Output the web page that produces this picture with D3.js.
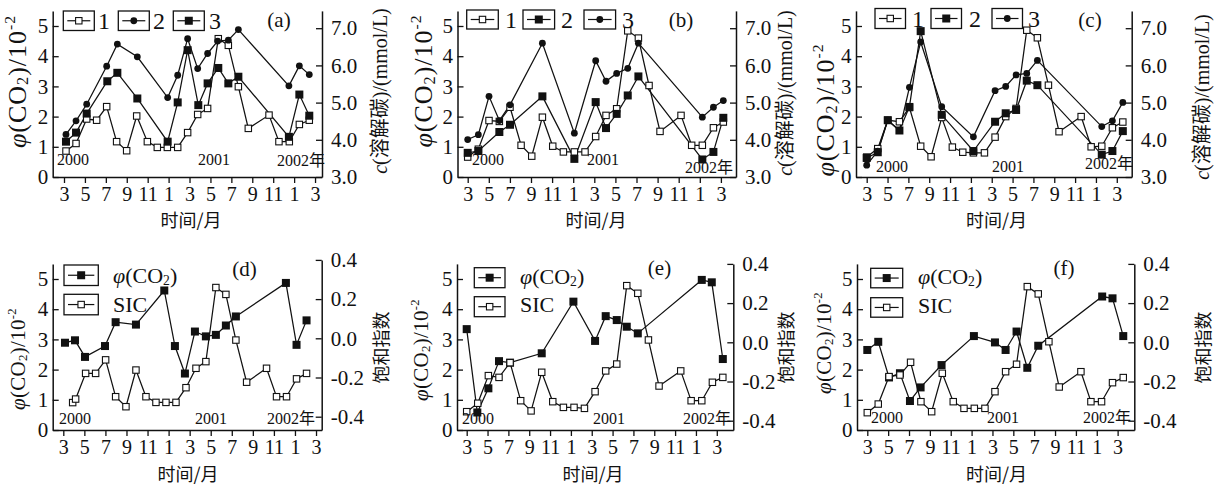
<!DOCTYPE html>
<html><head><meta charset="utf-8">
<script src="https://cdn.jsdelivr.net/npm/d3@7"></script>
<style>body{margin:0;background:#fff} svg{display:block}</style>
</head><body>
<svg id="c" width="1226" height="485"></svg>
<script>
// ---------- shared ticks ----------
const monthTicks = [0,2,4,6,8,10,12,14,16,18,20,22,24];
const monthTickLabels = ["3","5","7","9","11","1","3","5","7","9","11","1","3"];
const leftTicks = [0,1,2,3,4,5];
const rightTicksTop = [3,4,5,6,7];
const rightTicksBottom = [-0.4,-0.2,0,0.2,0.4];

// ---------- panel (a) ----------
const a1T = [0.19,1.15,2.17,3.12,4.08,5.03,5.99,6.95,7.97,8.92,9.88,10.87,11.82,12.78,13.73,14.75,15.71,16.67,17.62,19.6,20.55,21.54,22.5,23.45];
const a1V = [0.86,1.11,1.92,1.88,2.33,1.17,0.87,2.02,1.17,0.98,0.98,0.98,1.47,2.07,2.27,4.58,4.36,2.99,1.61,2.05,1.17,1.17,1.74,1.88];
const a2T = [0.19,1.15,2.17,4.08,5.1,7.01,9.91,10.87,11.82,12.78,13.73,14.69,15.71,16.67,21.5,22.5,23.45];
const a2V = [1.41,1.86,2.41,3.67,4.40,3.98,2.63,3.37,4.58,3.59,4.09,4.50,4.53,4.88,3.02,3.68,3.39];
const a3T = [0.19,1.15,2.17,4.14,5.1,7.01,9.91,10.87,11.82,12.84,13.73,14.75,15.71,16.67,21.5,22.5,23.45];
const a3V = [1.17,1.47,2.10,3.17,3.45,2.60,1.17,2.47,4.20,2.38,3.10,3.61,3.10,3.32,1.33,2.73,2.03];

// ---------- panel (b) ----------
const b1T = [0,1.01,2.02,3.0,4.01,5.06,6.07,7.08,8.06,9.07,10.11,11.12,12.13,13.11,14.12,15.17,16.18,17.19,18.23,20.22,21.23,22.24,23.29,24.23];
const b1V = [0.66,0.92,1.87,1.84,2.31,1.05,0.69,1.98,1.02,0.83,0.83,0.83,1.34,2.04,2.26,4.84,4.60,3.03,1.51,2.04,1.05,1.05,1.63,1.82];
const b2T = [0,1.01,3.0,4.01,7.08,10.11,12.13,13.11,14.12,15.17,16.18,22.24,23.29,24.23];
const b2V = [0.80,0.86,1.49,1.73,2.67,0.60,2.48,1.62,2.09,2.70,3.33,0.58,0.83,1.96];
const b3T = [0,1.01,2.02,3.0,4.01,7.08,10.11,12.13,13.11,14.12,15.17,16.18,22.24,23.29,24.23];
const b3V = [1.24,1.40,2.67,1.87,2.39,4.43,1.45,3.85,3.17,3.43,3.60,4.43,1.98,2.31,2.53];

// ---------- panel (c) ----------
const c1T = [0,1.06,2.02,3.14,4.1,5.18,6.18,7.2,8.22,9.22,10.24,11.3,12.32,13.34,14.34,15.36,16.38,17.44,18.46,20.58,21.54,22.56,23.58,24.58];
const c1V = [0.66,0.94,1.88,1.83,2.30,1.02,0.67,1.97,0.99,0.82,0.80,0.80,1.32,2.00,2.27,4.86,4.61,3.04,1.50,2.00,1.00,1.02,1.63,1.82];
const c2T = [0,1.06,2.02,3.14,4.1,5.18,7.2,10.24,12.32,13.34,14.34,15.36,16.38,22.56,23.58,24.58];
const c2V = [0.63,0.82,1.88,1.54,2.32,4.83,2.06,0.86,1.83,2.11,2.22,3.19,3.04,0.74,0.86,1.52];
const c3T = [0,1.06,2.02,3.14,4.1,5.18,7.2,10.24,12.32,13.34,14.34,15.36,16.38,22.56,23.58,24.58];
const c3V = [0.39,0.86,1.88,1.54,2.97,4.47,2.33,1.33,2.86,3.00,3.38,3.43,3.86,1.67,1.86,2.47];

// ---------- panel (d) ----------
const dCO2T = [0.16,1.11,2.06,3.96,4.97,6.9,9.59,10.6,11.55,12.5,13.54,14.49,15.44,16.39,21.14,22.15,23.1];
const dCO2V = [2.89,2.97,2.42,2.78,3.57,3.49,4.62,2.78,1.87,3.26,3.10,3.15,3.46,3.76,4.87,2.82,3.63];
const dSICT = [0.89,1.17,2.12,3.07,4.02,4.97,5.95,6.9,7.85,8.8,9.75,10.7,11.65,12.6,13.54,14.49,15.44,16.39,17.41,19.3,20.25,21.2,22.15,23.1];
const dSICV = [-0.328,-0.31,-0.179,-0.179,-0.11,-0.298,-0.349,-0.162,-0.298,-0.327,-0.327,-0.327,-0.252,-0.153,-0.119,0.259,0.224,-0.009,-0.224,-0.153,-0.298,-0.298,-0.207,-0.179];

// ---------- panel (e) ----------
const eCO2T = [0,1.02,2.08,3.1,4.16,7.2,10.24,12.32,13.34,14.4,15.36,16.42,22.56,23.52,24.58];
const eCO2V = [3.34,0.58,1.38,2.28,2.23,2.54,4.25,2.95,3.77,3.64,3.42,3.20,4.97,4.89,2.35];
const eSICT = [0,1.06,2.08,3.1,4.16,5.18,6.18,7.2,8.26,9.28,10.3,11.3,12.32,13.34,14.4,15.36,16.42,17.44,18.46,20.54,21.54,22.56,23.58,24.58];
const eSICV = [-0.354,-0.311,-0.170,-0.179,-0.104,-0.298,-0.350,-0.153,-0.303,-0.332,-0.332,-0.337,-0.252,-0.146,-0.111,0.289,0.250,0.012,-0.223,-0.146,-0.298,-0.298,-0.204,-0.179];

// ---------- panel (f) ----------
const fCO2T = [0,1.05,2.08,3.13,4.09,5.11,7.12,10.22,12.24,13.26,14.31,15.34,16.39,22.52,23.51,24.54];
const fCO2V = [2.65,2.92,1.74,1.88,0.96,1.41,2.15,3.11,2.90,2.65,3.26,2.06,2.79,4.42,4.36,3.11];
const fSICT = [0,1.05,2.08,3.13,4.15,5.14,6.17,7.19,8.24,9.27,10.26,11.28,12.24,13.26,14.31,15.34,16.39,17.41,18.4,20.48,21.44,22.46,23.51,24.54];
const fSICV = [-0.359,-0.315,-0.175,-0.167,-0.102,-0.303,-0.354,-0.158,-0.303,-0.337,-0.337,-0.337,-0.252,-0.150,-0.112,0.284,0.247,0.003,-0.228,-0.150,-0.303,-0.303,-0.206,-0.180];

// ---------- drawing ----------
const SERIF = "'Liberation Serif','Times New Roman',serif";
const CJK = "'Noto Sans CJK SC','Liberation Serif',sans-serif";
const MIX = "'Liberation Serif','Noto Sans CJK SC',serif";
const INK = "#111";
const svg = d3.select("#c");
const LPX = 30.2;        // px per left unit
const LMAX = 5.5;

function marker(g, mk, cx, cy) {
  if (mk === "open") {
    g.append("rect").attr("x", cx-3.2).attr("y", cy-3.2).attr("width", 6.4).attr("height", 6.4)
     .attr("fill", "#fff").attr("stroke", INK).attr("stroke-width", 1.1);
  } else if (mk === "sq") {
    g.append("rect").attr("x", cx-4).attr("y", cy-4).attr("width", 8).attr("height", 8).attr("fill", INK);
  } else {
    g.append("circle").attr("cx", cx).attr("cy", cy).attr("r", 3.4).attr("fill", INK);
  }
}

function co2Label(t, size, withUnit) {
  t.append("tspan").attr("font-style", "italic").text("φ");
  t.append("tspan").text("(CO");
  t.append("tspan").attr("font-size", size*0.62).attr("dy", size*0.1).text("2");
  t.append("tspan").attr("dy", -size*0.1).text(")");
  if (withUnit) {
    t.append("tspan").text("/10");
    t.append("tspan").attr("font-size", size*0.6).attr("dy", -size*0.42).text("-2");
  }
}

function drawPanel(p) {
  const g = svg.append("g");
  const x = d3.scaleLinear().domain([(p.xl - p.x0)/p.xpm, (p.xr - p.x0)/p.xpm]).range([p.xl, p.xr]);
  const yL = d3.scaleLinear().domain([0, LMAX]).range([p.py0, p.py0 - LMAX*LPX]);
  let yR;
  if (p.top) {
    const rMax = 3 + LMAX*LPX/37.2;
    yR = d3.scaleLinear().domain([3, rMax]).range([p.py0, p.py0 - LMAX*LPX]);
  } else {
    yR = d3.scaleLinear().domain([(p.sZeroY - p.py0)/196, 0.4]).range([p.py0, p.sZeroY - 0.4*196]);
  }

  const ax = g.append("g").attr("transform", `translate(0,${p.py0})`)
    .call(d3.axisBottom(x).tickValues(monthTicks).tickFormat((d,i)=>monthTickLabels[i]).tickSize(6).tickSizeOuter(0).tickPadding(4));
  const al = g.append("g").attr("transform", `translate(${p.xl},0)`)
    .call(d3.axisLeft(yL).tickValues(leftTicks).tickFormat(d3.format("d")).tickSize(-6).tickSizeOuter(0).tickPadding(4.5));
  const ar = g.append("g").attr("transform", `translate(${p.xr},0)`)
    .call(d3.axisRight(yR).tickValues(p.top ? rightTicksTop : rightTicksBottom).tickFormat(d => d.toFixed(1)).tickSize(-6).tickSizeOuter(0).tickPadding(9));
  [ax, al, ar].forEach(a => {
    a.attr("font-family", SERIF).attr("font-size", 21).style("color", INK);
    a.select(".domain").attr("stroke-width", 1.5);
    a.selectAll(".tick line").attr("stroke-width", 1.3);
  });
  ax.attr("font-size", 20);

  // lines
  const line = d3.line();
  const ptsAll = p.series.map(s => s.t.map((t,i) => [x(t), s.right ? yR(s.v[i]) : yL(s.v[i])]));
  ptsAll.forEach(pts => g.append("path").attr("d", line(pts)).attr("fill", "none").attr("stroke", INK).attr("stroke-width", 1.25));
  ptsAll.forEach((pts, k) => pts.forEach(q => marker(g, p.series[k].mk, q[0], q[1])));

  // year annotations
  p.years.forEach(yy => g.append("text").attr("x", yy[1]).attr("y", yy[2]).attr("dy", "0.34em")
    .attr("font-family", MIX).attr("font-size", 16).attr("fill", INK).text(yy[0]));

  // legend
  p.legend.forEach(L => {
    g.append("rect").attr("x", L.bx).attr("y", L.by).attr("width", L.bw).attr("height", L.bh)
      .attr("fill", "#fff").attr("stroke", INK).attr("stroke-width", 1.3);
    const cy = L.by + L.bh/2;
    g.append("line").attr("x1", L.bx+4).attr("x2", L.bx+L.bw-4).attr("y1", cy).attr("y2", cy)
      .attr("stroke", INK).attr("stroke-width", 1.2);
    marker(g, L.mk, L.bx + L.bw/2, cy);
    const t = g.append("text").attr("x", L.lx).attr("y", L.ly).attr("dy", "0.34em")
      .attr("font-family", SERIF).attr("font-size", L.size).attr("fill", INK);
    if (L.label === "CO2") co2Label(t, L.size, false); else t.text(L.label);
  });
  g.append("text").attr("x", p.tag[1]).attr("y", p.tag[2]).attr("dy", "0.34em").attr("text-anchor", "middle")
    .attr("font-family", SERIF).attr("font-size", 21).attr("fill", INK).text(p.tag[0]);

  // axis titles
  const lt = g.append("text").attr("transform", `translate(${p.ltitle[0]},${p.ltitle[1]}) rotate(-90)`)
    .attr("text-anchor", "middle").attr("font-family", SERIF).attr("font-size", p.ltitle[2])
    .attr("letter-spacing", p.ltitle[3]).attr("fill", INK);
  co2Label(lt, p.ltitle[2], true);

  const rt = g.append("text").attr("transform", `translate(${p.rtitle[0]},${p.rtitle[1]}) rotate(-90)`)
    .attr("text-anchor", "middle").attr("font-family", MIX).attr("font-size", p.rtitle[2]).attr("fill", INK);
  if (p.top) {
    rt.append("tspan").attr("font-style", "italic").text("c");
    rt.append("tspan").text("(溶解碳)/(mmol/L)");
  } else {
    rt.attr("font-family", CJK).text("饱和指数");
  }

  g.append("text").attr("x", p.xtitle[0]).attr("y", p.xtitle[1]).attr("dy", "0.36em").attr("text-anchor", "middle")
    .attr("font-family", CJK).attr("font-size", 18).attr("fill", INK).text("时间/月");
}

const topLegend = (bxs, by, bh, bw, lxs, ly, mks) => bxs.map((bx,i) => ({bx, by, bh, bw, mk: mks[i], label: String(i+1), lx: lxs[i], ly, size: 24}));
const botLegend = (bx, bys, bh, bw, lx, lys) => [
  {bx, by: bys[0], bh, bw, mk: "sq", label: "CO2", lx, ly: lys[0], size: 22},
  {bx, by: bys[1], bh, bw, mk: "open", label: "SIC", lx, ly: lys[1], size: 22}
];

const panels = [
  { top: true, xl: 52.7, xr: 322, x0: 64, xpm: 10.46, py0: 177,
    series: [{t:a1T, v:a1V, mk:"open"}, {t:a2T, v:a2V, mk:"dot"}, {t:a3T, v:a3V, mk:"sq"}],
    years: [["2000",57,160],["2001",198,160],["2002年",277,161]],
    legend: topLegend([63.3,118.3,173.3], 11, 19.5, 31, [98,153,209], 21, ["open","dot","sq"]),
    tag: ["(a)", 279, 20], ltitle: [25.5, 81.5, 26, 1], rtitle: [387, 91, 20], xtitle: [191, 221] },
  { top: true, xl: 457.5, xr: 736, x0: 467.7, xpm: 10.55, py0: 177,
    series: [{t:b1T, v:b1V, mk:"open"}, {t:b2T, v:b2V, mk:"sq"}, {t:b3T, v:b3V, mk:"dot"}],
    years: [["2000",472,160],["2001",587,160],["2002年",685,168]],
    legend: topLegend([466.7,523,584], 10, 19, 31.6, [505,561,622], 20.3, ["open","sq","dot"]),
    tag: ["(b)", 681, 20], ltitle: [432, 81, 26, 1], rtitle: [792, 93, 20], xtitle: [596, 221] },
  { top: true, xl: 856, xr: 1131.7, x0: 866.7, xpm: 10.42, py0: 177,
    series: [{t:c1T, v:c1V, mk:"open"}, {t:c2T, v:c2V, mk:"sq"}, {t:c3T, v:c3V, mk:"dot"}],
    years: [["2000",876,167],["2001",992,167],["2002年",1085,164]],
    legend: topLegend([875,931,992], 8.5, 20, 30.5, [912,969,1028], 18.8, ["open","sq","dot"]),
    tag: ["(c)", 1090, 20], ltitle: [834, 110, 26, 1], rtitle: [1209, 97, 20], xtitle: [996.5, 221] },
  { top: false, xl: 52.7, xr: 321.7, x0: 63.3, xpm: 10.53, py0: 430, sZeroY: 338.3,
    series: [{t:dCO2T, v:dCO2V, mk:"sq"}, {t:dSICT, v:dSICV, mk:"open", right:true}],
    years: [["2000",59,419],["2001",195,419],["2002年",267,419]],
    legend: botLegend(64, [265,294.3], 20.5, 34.3, 113, [275.7,304.3]),
    tag: ["(d)", 244.5, 269], ltitle: [24.5, 359, 21, 0.3], rtitle: [388, 347.5, 18], xtitle: [188, 475] },
  { top: false, xl: 457, xr: 733.3, x0: 466.7, xpm: 10.42, py0: 430, sZeroY: 342.3,
    series: [{t:eCO2T, v:eCO2V, mk:"sq"}, {t:eSICT, v:eSICV, mk:"open", right:true}],
    years: [["2000",462,419],["2001",593,419],["2002年",683,419]],
    legend: botLegend(474.3, [267.7,296.7], 20, 30.7, 520, [276.7,305]),
    tag: ["(e)", 659.5, 268.3], ltitle: [428, 350, 21, 0.3], rtitle: [793, 347.5, 18], xtitle: [593, 475] },
  { top: false, xl: 857, xr: 1134.3, x0: 867.3, xpm: 10.43, py0: 430, sZeroY: 342.3,
    series: [{t:fCO2T, v:fCO2V, mk:"sq"}, {t:fSICT, v:fSICV, mk:"open", right:true}],
    years: [["2000",871,418],["2001",987,418],["2002年",1083,418]],
    legend: botLegend(870.7, [268.3,297.7], 19.5, 32, 918, [276.7,306]),
    tag: ["(f)", 1064, 268], ltitle: [831, 343, 21, 0.3], rtitle: [1210, 347.5, 18], xtitle: [996.5, 475] }
];
panels.forEach(drawPanel);
</script>
</body></html>
